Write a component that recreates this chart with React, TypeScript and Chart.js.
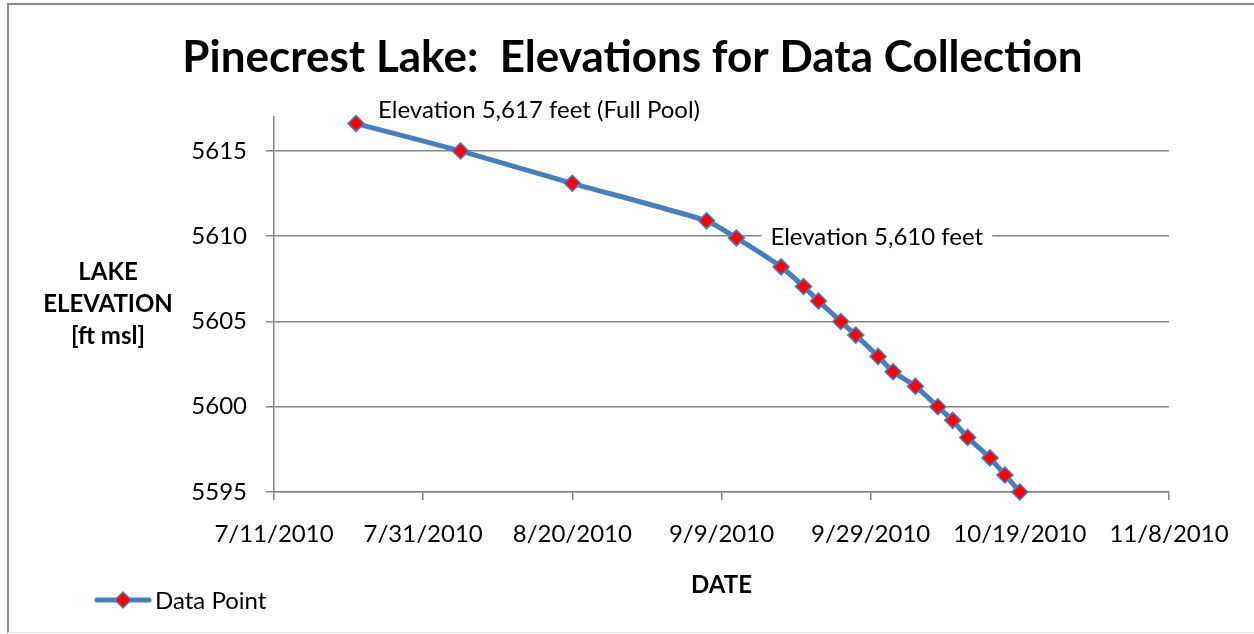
import React, { useEffect, useRef } from "react";
import { Chart, registerables } from "chart.js";

Chart.register(...registerables);

// ---------------- DATA ----------------
const pointDates = [
  "7/22/2010", "8/5/2010", "8/20/2010", "9/7/2010", "9/11/2010",
  "9/17/2010", "9/20/2010", "9/22/2010", "9/25/2010", "9/27/2010",
  "9/30/2010", "10/2/2010", "10/5/2010", "10/8/2010", "10/10/2010",
  "10/12/2010", "10/15/2010", "10/17/2010", "10/19/2010",
];
const elevations = [
  5616.6, 5615.0, 5613.1, 5610.9, 5609.9,
  5608.2, 5607.05, 5606.2, 5605.0, 5604.2,
  5602.95, 5602.05, 5601.2, 5600.0, 5599.2,
  5598.2, 5597.0, 5596.0, 5595.0,
];
const xAxisStart = "7/11/2010";
const xAxisEnd = "11/8/2010";
const xStepDays = 20;
const yMin = 5595;
const yMax = 5617;
const yStep = 5;
const chartTitle = "Pinecrest Lake:  Elevations for Data Collection";
const yTitleLines = ["LAKE", "ELEVATION", "[ft msl]"];
const xTitle = "DATE";
const seriesName = "Data Point";
const fullPoolLabel = "Elevation 5,617 feet (Full Pool)";
const fullPoolIndex = 0;
const midLabel = "Elevation 5,610 feet";
const midLabelElevation = 5610;
const midLabelIndex = 4;

// ---------------- HELPERS ----------------
const DAY = 86400000;
const parseDate = (s: string) => {
  const [m, d, y] = s.split("/").map(Number);
  return Date.UTC(y, m - 1, d);
};
const formatDate = (v: number) => {
  const dt = new Date(v);
  return `${dt.getUTCMonth() + 1}/${dt.getUTCDate()}/${dt.getUTCFullYear()}`;
};

const FONT = "Lato, 'Open Sans', sans-serif";
const LINE_BLUE = "#4A7EBB";
const MARKER_RED = "#FF0000";
const GRID = "#868686";

const drawDiamond = (ctx: CanvasRenderingContext2D, x: number, y: number, r: number) => {
  ctx.beginPath();
  ctx.moveTo(x, y - r);
  ctx.lineTo(x + r, y);
  ctx.lineTo(x, y + r);
  ctx.lineTo(x - r, y);
  ctx.closePath();
  ctx.fillStyle = MARKER_RED;
  ctx.fill();
  ctx.lineWidth = 1.5;
  ctx.strokeStyle = LINE_BLUE;
  ctx.stroke();
};

const decorPlugin = {
  id: "decor",
  beforeDraw(chart: any) {
    const ctx = chart.ctx;
    ctx.save();
    ctx.fillStyle = "#ffffff";
    ctx.fillRect(0, 0, chart.width, chart.height);
    // outer chart border
    ctx.strokeStyle = "#8a8a8a";
    ctx.lineWidth = 2;
    ctx.beginPath();
    ctx.moveTo(8, chart.height - 1);
    ctx.lineTo(8, 4);
    ctx.lineTo(chart.width + 10, 4);
    ctx.stroke();
    ctx.strokeStyle = "#e2e2e2";
    ctx.lineWidth = 1;
    ctx.beginPath();
    ctx.moveTo(8, chart.height - 1.5);
    ctx.lineTo(chart.width, chart.height - 1.5);
    ctx.stroke();
    ctx.restore();
  },
  beforeDatasetsDraw(chart: any) {
    const { ctx, scales } = chart;
    const xs = scales.x, ys = scales.y;
    ctx.save();
    ctx.font = `24px ${FONT}`;
    ctx.textBaseline = "middle";
    ctx.textAlign = "left";
    // mid label with white background over gridline
    const mx = xs.getPixelForValue(parseDate(pointDates[midLabelIndex])) + 34;
    const my = ys.getPixelForValue(midLabelElevation);
    const w = ctx.measureText(midLabel).width;
    ctx.fillStyle = "#ffffff";
    ctx.fillRect(mx - 9, my - 14, w + 18, 28);
    ctx.fillStyle = "#000000";
    ctx.fillText(midLabel, mx, my + 1);
    // full pool label
    const fx = xs.getPixelForValue(parseDate(pointDates[fullPoolIndex])) + 22;
    const fy = ys.getPixelForValue(elevations[fullPoolIndex]) - 13;
    ctx.fillText(fullPoolLabel, fx, fy);
    ctx.restore();
  },
  afterDraw(chart: any) {
    const { ctx, chartArea } = chart;
    ctx.save();
    // y-axis title (horizontal, three lines)
    ctx.font = `bold 24px ${FONT}`;
    ctx.fillStyle = "#000000";
    ctx.textAlign = "center";
    ctx.textBaseline = "middle";
    const cx = chartArea.left - 166;
    const cy = (chartArea.top + chartArea.bottom) / 2;
    yTitleLines.forEach((line, i) => {
      ctx.fillText(line, cx, cy + (i - 1) * 32);
    });
    // legend
    const ly = 600;
    ctx.strokeStyle = LINE_BLUE;
    ctx.lineWidth = 5;
    ctx.lineCap = "round";
    ctx.beginPath();
    ctx.moveTo(97, ly);
    ctx.lineTo(149, ly);
    ctx.stroke();
    drawDiamond(ctx, 123, ly, 8);
    ctx.font = `24px ${FONT}`;
    ctx.textAlign = "left";
    ctx.fillStyle = "#000000";
    ctx.fillText(seriesName, 155, ly + 1);
    ctx.restore();
  },
};

export default function App() {
  const canvasRef = useRef<HTMLCanvasElement | null>(null);

  useEffect(() => {
    document.body.style.margin = "0";
    const canvas = canvasRef.current;
    if (!canvas) return;
    const data = pointDates.map((d, i) => ({ x: parseDate(d), y: elevations[i] }));
    const chart = new Chart(canvas, {
      type: "line",
      data: {
        datasets: [
          {
            label: seriesName,
            data,
            borderColor: LINE_BLUE,
            borderWidth: 5,
            tension: 0.2,
            pointStyle: "rectRot",
            pointRadius: 8,
            pointBackgroundColor: MARKER_RED,
            pointBorderColor: LINE_BLUE,
            pointBorderWidth: 1.5,
            fill: false,
            clip: false,
          },
        ],
      },
      options: {
        responsive: false,
        animation: false,
        events: [],
        layout: { padding: { left: 96, right: 85, top: 0, bottom: 0 } },
        plugins: {
          legend: { display: false },
          tooltip: { enabled: false },
          title: {
            display: true,
            text: chartTitle,
            color: "#000000",
            font: { family: FONT, size: 44, weight: "bold", lineHeight: 1.2 },
            padding: { top: 31, bottom: 33 },
          },
        },
        scales: {
          x: {
            type: "linear",
            min: parseDate(xAxisStart),
            max: parseDate(xAxisEnd),
            afterFit: (s: any) => { s.height = 142; },
            ticks: {
              stepSize: xStepDays * DAY,
              maxRotation: 0,
              autoSkip: false,
              padding: 20,
              color: "#000000",
              font: { family: FONT, size: 24 },
              callback: (v: any) => formatDate(Number(v)),
            },
            grid: { drawOnChartArea: false, drawTicks: true, tickLength: 8, color: GRID, lineWidth: 1.5 },
            border: { display: true, color: GRID, width: 1.5 },
            title: {
              display: true,
              text: xTitle,
              color: "#000000",
              font: { family: FONT, size: 24, weight: "bold" },
              padding: { top: 0, bottom: 34 },
            },
          },
          y: {
            type: "linear",
            min: yMin,
            max: yMax,
            afterFit: (s: any) => { s.width = 178; },
            ticks: {
              stepSize: yStep,
              includeBounds: false,
              padding: 19,
              color: "#000000",
              font: { family: FONT, size: 24 },
              callback: (v: any) => String(v),
            },
            grid: { drawOnChartArea: true, drawTicks: true, tickLength: 8, color: GRID, lineWidth: 1.5 },
            border: { display: true, color: GRID, width: 1.5 },
          },
        },
      },
      plugins: [decorPlugin],
    });
    return () => chart.destroy();
  }, []);

  return (
    <canvas
      ref={canvasRef}
      width={1254}
      height={634}
      style={{ display: "block", width: "1254px", height: "634px" }}
    />
  );
}
